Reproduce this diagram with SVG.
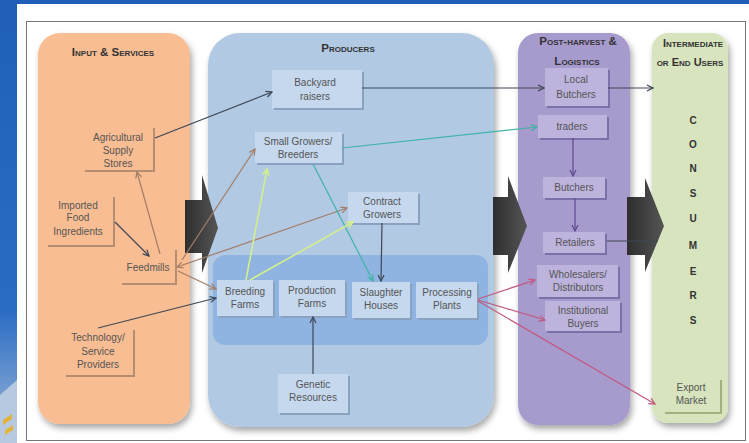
<svg xmlns="http://www.w3.org/2000/svg" width="749" height="443" viewBox="0 0 749 443">
<defs>
<style>
.t{font-family:"Liberation Sans",Arial,sans-serif;font-size:10px;fill:#555;text-anchor:middle}
.h{font-family:"Liberation Sans",Arial,sans-serif;font-size:11.5px;font-weight:bold;font-variant:small-caps;fill:#333;text-anchor:middle}
.c{font-family:"Liberation Sans",Arial,sans-serif;font-size:10px;font-weight:bold;fill:#333;text-anchor:middle}
.ln{fill:none;stroke-width:1.2}
.dk{stroke:#3e4756}
.br{stroke:#a27d66}
.tl{stroke:#3fb3a6}
.yg{stroke:#d3ef8c}
.pk{stroke:#c3587e}
.pu{stroke:#5b4a8c}
.shL{fill:#b58e72}
.shB{fill:#8aa2c0}
.shP{fill:#7d70a8}
.shG{fill:#a2b07e}
</style>
<linearGradient id="blueBg" x1="0" y1="0" x2="0" y2="1">
<stop offset="0" stop-color="#1f5fb8"/>
<stop offset="0.7" stop-color="#2a6cc4"/>
<stop offset="1" stop-color="#9fb8d8"/>
</linearGradient>
<linearGradient id="arr" x1="0" y1="0" x2="1" y2="0">
<stop offset="0" stop-color="#2e2e2e"/>
<stop offset="1" stop-color="#555"/>
</linearGradient>
<filter id="sh" x="-10%" y="-10%" width="125%" height="125%">
<feDropShadow dx="2" dy="4" stdDeviation="3" flood-color="#000" flood-opacity="0.35"/>
</filter>
<marker id="mDk" markerWidth="8" markerHeight="8" refX="7" refY="4" orient="auto" markerUnits="userSpaceOnUse"><path d="M1,1 L7,4 L1,7" fill="none" stroke="#3e4756" stroke-width="1.2"/></marker>
<marker id="mBr" markerWidth="8" markerHeight="8" refX="7" refY="4" orient="auto" markerUnits="userSpaceOnUse"><path d="M1,1 L7,4 L1,7" fill="none" stroke="#a27d66" stroke-width="1.2"/></marker>
<marker id="mBrS" markerWidth="8" markerHeight="8" refX="1" refY="4" orient="auto" markerUnits="userSpaceOnUse"><path d="M7,1 L1,4 L7,7" fill="none" stroke="#a27d66" stroke-width="1.2"/></marker>
<marker id="mTl" markerWidth="8" markerHeight="8" refX="7" refY="4" orient="auto" markerUnits="userSpaceOnUse"><path d="M1,1 L7,4 L1,7" fill="none" stroke="#3fb3a6" stroke-width="1.2"/></marker>
<marker id="mYg" markerWidth="8" markerHeight="8" refX="7" refY="4" orient="auto" markerUnits="userSpaceOnUse"><path d="M1,1 L7,4 L1,7" fill="none" stroke="#d3ef8c" stroke-width="1.6"/></marker>
<marker id="mPk" markerWidth="8" markerHeight="8" refX="7" refY="4" orient="auto" markerUnits="userSpaceOnUse"><path d="M1,1 L7,4 L1,7" fill="none" stroke="#c3587e" stroke-width="1.2"/></marker>
<marker id="mPu" markerWidth="8" markerHeight="8" refX="7" refY="4" orient="auto" markerUnits="userSpaceOnUse"><path d="M1,1 L7,4 L1,7" fill="none" stroke="#5b4a8c" stroke-width="1.2"/></marker>
</defs>

<!-- page background -->
<rect x="0" y="0" width="749" height="443" fill="#fff"/>
<rect x="0" y="0" width="749" height="4" fill="#1f5fb8"/>
<rect x="0" y="0" width="17" height="443" fill="url(#blueBg)"/>
<path d="M0,395 L17,380 L17,443 L0,443 Z" fill="#b7c9e0"/>
<path d="M3,420 L12,414 L12,419 L3,425 Z M5,430 L13,425 L13,430 L5,435 Z" fill="#e0b53a"/>
<rect x="26.5" y="21.5" width="719" height="419" fill="#fff" stroke="#777" stroke-width="1"/>

<!-- columns -->
<g id="col-input">
<rect x="38" y="33" width="152" height="391" rx="22" fill="#f9bd93" filter="url(#sh)"/>
<text class="h" x="113" y="56">Input &amp; Services</text>
</g>
<g id="col-producers">
<rect x="208" y="33" width="286" height="394" rx="32" fill="#b1c9e3" filter="url(#sh)"/>
<text class="h" x="348" y="52">Producers</text>
<rect x="213" y="255" width="275" height="90" rx="12" fill="#8fb4e1"/>
</g>
<g id="col-post">
<rect x="518" y="33" width="112" height="392" rx="20" fill="#a79acd" filter="url(#sh)"/>
<text class="h" x="578" y="45">Post-harvest &amp;</text>
<text class="h" x="577" y="65">Logistics</text>
</g>
<g id="col-users">
<rect x="652" y="33" width="76" height="390" rx="16" fill="#d7e4bd" filter="url(#sh)"/>
<text class="h" x="693" y="47" style="font-size:11px">Intermediate</text>
<text class="h" x="690" y="66" style="font-size:11px">or  End Users</text>
<text class="c" x="693" y="124">C</text>
<text class="c" x="693" y="148">O</text>
<text class="c" x="693" y="172">N</text>
<text class="c" x="693" y="197">S</text>
<text class="c" x="693" y="222">U</text>
<text class="c" x="693" y="249">M</text>
<text class="c" x="693" y="275">E</text>
<text class="c" x="693" y="299">R</text>
<text class="c" x="693" y="324">S</text>
</g>

<!-- big flow arrows -->
<g id="flow-arrows">
<path d="M185,200 L202,200 L202,175 L218,228 L202,273 L202,253 L185,253 Z" fill="url(#arr)"/>
<path d="M493,197 L508,197 L508,176 L527,226 L508,273 L508,255 L493,255 Z" fill="url(#arr)"/>
<path d="M627,197 L645,197 L645,178 L664,226 L645,272 L645,255 L627,255 Z" fill="url(#arr)"/>
</g>

<!-- nodes: input & services -->
<g id="n-agri">
<rect class="shL" x="85" y="128" width="70" height="44"/>
<rect x="83" y="126" width="70" height="44" fill="#f9bd93"/>
<text class="t" x="118" y="141">Agricultural</text>
<text class="t" x="118" y="154">Supply</text>
<text class="t" x="118" y="167">Stores</text>
</g>
<g id="n-imported">
<rect class="shL" x="48" y="197" width="67" height="50"/>
<rect x="46" y="195" width="67" height="50" fill="#f9bd93"/>
<text class="t" x="78" y="209">Imported</text>
<text class="t" x="78" y="221">Food</text>
<text class="t" x="78" y="235">Ingredients</text>
</g>
<g id="n-feedmills">
<rect class="shL" x="122" y="250" width="55" height="35"/>
<rect x="120" y="248" width="55" height="35" fill="#f9bd93"/>
<text class="t" x="148" y="271">Feedmills</text>
</g>
<g id="n-tech">
<rect class="shL" x="66" y="330" width="69" height="47"/>
<rect x="64" y="328" width="69" height="47" fill="#f9bd93"/>
<text class="t" x="98" y="341">Technology/</text>
<text class="t" x="98" y="355">Service</text>
<text class="t" x="98" y="368">Providers</text>
</g>

<!-- nodes: producers -->
<g id="n-backyard">
<rect class="shB" x="274" y="72" width="90" height="38"/>
<rect x="272" y="70" width="90" height="38" fill="#c5d8ee"/>
<text class="t" x="315" y="86">Backyard</text>
<text class="t" x="315" y="100">raisers</text>
</g>
<g id="n-small">
<rect class="shB" x="257" y="134" width="87" height="31"/>
<rect x="255" y="132" width="87" height="31" fill="#c5d8ee"/>
<text class="t" x="298" y="145">Small Growers/</text>
<text class="t" x="298" y="158">Breeders</text>
</g>
<g id="n-contract">
<rect class="shB" x="350" y="194" width="70" height="31"/>
<rect x="348" y="192" width="70" height="31" fill="#c5d8ee"/>
<text class="t" x="382" y="205">Contract</text>
<text class="t" x="382" y="218">Growers</text>
</g>
<g id="n-breeding">
<rect class="shB" x="219" y="282" width="56" height="36"/>
<rect x="217" y="280" width="56" height="36" fill="#c5d8ee"/>
<text class="t" x="245" y="295">Breeding</text>
<text class="t" x="245" y="308">Farms</text>
</g>
<g id="n-production">
<rect class="shB" x="281" y="282" width="66" height="36"/>
<rect x="279" y="280" width="66" height="36" fill="#c5d8ee"/>
<text class="t" x="312" y="294">Production</text>
<text class="t" x="312" y="307">Farms</text>
</g>
<g id="n-slaughter">
<rect class="shB" x="354" y="284" width="58" height="36"/>
<rect x="352" y="282" width="58" height="36" fill="#c5d8ee"/>
<text class="t" x="381" y="296">Slaughter</text>
<text class="t" x="381" y="309">Houses</text>
</g>
<g id="n-processing">
<rect class="shB" x="418" y="284" width="61" height="36"/>
<rect x="416" y="282" width="61" height="36" fill="#c5d8ee"/>
<text class="t" x="447" y="296">Processing</text>
<text class="t" x="447" y="309">Plants</text>
</g>
<g id="n-genetic">
<rect class="shB" x="280" y="376" width="70" height="39"/>
<rect x="278" y="374" width="70" height="39" fill="#c5d8ee"/>
<text class="t" x="313" y="388">Genetic</text>
<text class="t" x="313" y="401">Resources</text>
</g>

<!-- nodes: post-harvest -->
<g id="n-localbutchers">
<rect class="shP" x="547" y="70" width="63" height="38"/>
<rect x="545" y="68" width="63" height="38" fill="#bdb3dd"/>
<text class="t" x="576" y="83">Local</text>
<text class="t" x="576" y="98">Butchers</text>
</g>
<g id="n-traders">
<rect class="shP" x="540" y="117" width="69" height="23"/>
<rect x="538" y="115" width="69" height="23" fill="#bdb3dd"/>
<text class="t" x="572" y="130">traders</text>
</g>
<g id="n-butchers">
<rect class="shP" x="545" y="179" width="62" height="21"/>
<rect x="543" y="177" width="62" height="21" fill="#bdb3dd"/>
<text class="t" x="574" y="191">Butchers</text>
</g>
<g id="n-retailers">
<rect class="shP" x="545" y="234" width="62" height="21"/>
<rect x="543" y="232" width="62" height="21" fill="#bdb3dd"/>
<text class="t" x="575" y="246">Retailers</text>
</g>
<g id="n-wholesalers">
<rect class="shP" x="539" y="267" width="81" height="32"/>
<rect x="537" y="265" width="81" height="32" fill="#bdb3dd"/>
<text class="t" x="578" y="278">Wholesalers/</text>
<text class="t" x="578" y="291">Distributors</text>
</g>
<g id="n-institutional">
<rect class="shP" x="547" y="303" width="75" height="30"/>
<rect x="545" y="301" width="75" height="30" fill="#bdb3dd"/>
<text class="t" x="583" y="314">Institutional</text>
<text class="t" x="583" y="327">Buyers</text>
</g>

<!-- nodes: users -->
<g id="n-export">
<rect class="shG" x="665" y="380" width="57" height="34"/>
<rect x="663" y="378" width="57" height="34" fill="#d7e4bd"/>
<text class="t" x="691" y="391">Export</text>
<text class="t" x="691" y="404">Market</text>
</g>

<!-- connectors -->
<g id="connectors">
<line class="ln dk" x1="155" y1="138" x2="272" y2="92" marker-end="url(#mDk)"/>
<line class="ln br" x1="160" y1="254" x2="137" y2="172" marker-end="url(#mBr)"/>
<line class="ln dk" x1="115" y1="222" x2="149" y2="256" marker-end="url(#mDk)"/>
<line class="ln br" x1="182" y1="260" x2="255" y2="149" marker-end="url(#mBr)"/>
<line class="ln br" x1="177" y1="267" x2="347" y2="208" marker-start="url(#mBrS)" marker-end="url(#mBr)"/>
<line class="ln br" x1="178" y1="271" x2="216" y2="289" marker-end="url(#mBr)"/>
<line class="ln dk" x1="98" y1="328" x2="216" y2="298" marker-end="url(#mDk)"/>
<line class="ln dk" x1="362" y1="88" x2="544" y2="88" marker-end="url(#mDk)"/>
<line class="ln dk" x1="608" y1="88" x2="653" y2="88" marker-end="url(#mDk)"/>
<line class="ln tl" x1="342" y1="148" x2="537" y2="127" marker-end="url(#mTl)"/>
<line class="ln tl" x1="313" y1="164" x2="373" y2="281" marker-end="url(#mTl)"/>
<line class="ln yg" style="stroke-width:1.6" x1="246" y1="280" x2="267" y2="169" marker-end="url(#mYg)"/>
<line class="ln yg" style="stroke-width:1.6" x1="250" y1="280" x2="353" y2="222" marker-end="url(#mYg)"/>
<line class="ln dk" x1="382" y1="223" x2="381" y2="281" marker-end="url(#mDk)"/>
<line class="ln dk" x1="313" y1="374" x2="313" y2="317" marker-end="url(#mDk)"/>
<line class="ln pu" x1="573" y1="138" x2="573" y2="176" marker-end="url(#mPu)"/>
<line class="ln pu" x1="575" y1="198" x2="575" y2="231" marker-end="url(#mPu)"/>
<line class="ln dk" x1="607" y1="241" x2="658" y2="241"/>
<line class="ln pk" x1="478" y1="299" x2="535" y2="280" marker-end="url(#mPk)"/>
<line class="ln pk" x1="478" y1="300" x2="545" y2="320" marker-end="url(#mPk)"/>
<line class="ln pk" x1="478" y1="301" x2="655" y2="404" marker-end="url(#mPk)"/>
</g>
</svg>
